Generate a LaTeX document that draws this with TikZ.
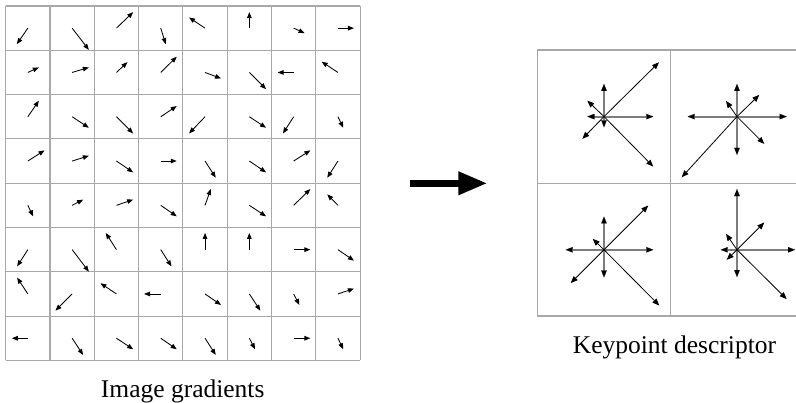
\documentclass[tikz,border=0pt]{standalone}
\usepackage{fontspec}
\setmainfont{Liberation Serif}
\usetikzlibrary{arrows.meta}
\definecolor{gridgray}{RGB}{168,168,168}
\definecolor{axisgray}{RGB}{125,125,125}
\tikzset{
  gridline/.style={draw=gridgray, line width=1.1pt},
  gradarrow/.style={line width=0.85pt, -{Triangle[length=6pt,width=4.6pt]}},
  diagarrow/.style={line width=0.8pt, -{Triangle[length=7pt,width=5.5pt]}},
  axisarrow/.style={draw=axisgray, line width=1.9pt,
    -{Triangle[length=7pt,width=5.5pt,color=black,line width=0.1pt]}},
  bigarrow/.style={line width=6.7pt, -{Triangle[length=29pt,width=22pt]}},
  caption/.style={font=\fontsize{25.5}{30}\selectfont, anchor=base, inner sep=0pt}
}
\begin{document}
\begin{tikzpicture}[x=1pt,y=-1pt]
\useasboundingbox (0,0) rectangle (796,403);
\clip (0,0) rectangle (796,403);

% ---- 8x8 grid of image gradients ----
\foreach \i in {0,...,8} {
  \draw[gridline] (5.7+44.3*\i,6) -- (5.7+44.3*\i,360.4);
  \draw[gridline] (5.7,6+44.3*\i) -- (360.1,6+44.3*\i);
}
\foreach \r/\c/\dx/\dy in {
  0/0/-11/16, 0/1/16.7/21.7, 0/2/16.7/-16, 0/3/5/16,
  0/4/-16/-10.7, 0/5/0/-16, 0/6/11/5, 0/7/16/0,
  1/0/11/-5, 1/1/16.7/-5, 1/2/11/-10.3, 1/3/16/-15.7,
  1/4/16/6, 1/5/16.7/16.7, 1/6/-16/0, 1/7/-16.3/-10.7,
  2/0/11/-16, 2/1/16.7/11, 2/2/16.7/16.7, 2/3/16/-10.7,
  2/4/-16/16.7, 2/5/16.7/11, 2/6/-10.7/16.7, 2/7/5.3/11,
  3/0/16.7/-10.7, 3/1/16.7/-5.3, 3/2/16.7/11.3, 3/3/16/0,
  3/4/10.7/16.7, 3/5/16.7/11.3, 3/6/16.7/-10.7, 3/7/-10.7/16.7,
  4/0/5.3/11, 4/1/11/-5.7, 4/2/16.7/-5.7, 4/3/16/11,
  4/4/5.7/-16.3, 4/5/16.7/11, 4/6/16.7/-16.3, 4/7/-10.7/-11,
  5/0/-10.7/16.7, 5/1/16.7/22, 5/2/-10.7/-16.7, 5/3/10.7/16.7,
  5/4/0/-16.7, 5/5/0/-16.7, 5/6/16.7/0, 5/7/16/11,
  6/0/-10.7/-16.3, 6/1/-16.7/16.7, 6/2/-16/-10.7, 6/3/-16.7/0,
  6/4/16/11, 6/5/11/16.7, 6/6/5.7/11, 6/7/16/-5.3,
  7/0/-16/0, 7/1/11/16.7, 7/2/16.7/11, 7/3/16/11,
  7/4/10.7/16.7, 7/5/5.7/11, 7/6/16.7/0, 7/7/5.3/11} {
  \coordinate (g-\r-\c) at (5.7+44.3*\c+22.15, 6+44.3*\r+22.15);
  \draw[gradarrow] (g-\r-\c) -- ++(\dx,\dy);
}
\node[caption] (gradlabel) at (182.7,397.3) {Image gradients};

% ---- arrow between the two panels ----
\coordinate (arrowtail) at (410,183.3);
\coordinate (arrowhead) at (487.3,183.3);
\draw[bigarrow] (arrowtail) -- (arrowhead);

% ---- 2x2 keypoint descriptor ----
\draw[gridline] (537.3,50) rectangle (803.3,316);
\draw[gridline] (670.3,50) -- (670.3,316);
\draw[gridline] (537.3,183.3) -- (803.3,183.3);

\coordinate (q1) at (604,116.6);
\coordinate (q2) at (737,116.6);
\coordinate (q3) at (604,249.8);
\coordinate (q4) at (737,249.8);

% orientation histograms: E, N, W, S (grey) and NE, NW, SW, SE (black)
\foreach \q/\e/\n/\w/\s in {q1/49.3/32.7/16.7/10.7, q2/49.7/32.7/49.3/38.3,
                            q3/49.3/33.3/38.3/27.7, q4/58/60.7/16.3/27.3} {
  \draw[axisarrow] (\q) -- ++(\e,0);
  \draw[axisarrow] (\q) -- ++(0,-\n);
  \draw[axisarrow] (\q) -- ++(-\w,0);
  \draw[axisarrow] (\q) -- ++(0,\s);
}
\foreach \q/\nex/\ney/\nwx/\nwy/\swx/\swy/\sex/\sey in {
    q1/55/-54.3/-16.7/-16/-21.7/22.3/49.3/50,
    q2/22.3/-21.7/-11/-15.7/-55.3/60.7/27.3/27.3,
    q3/44.3/-44.3/-11.3/-11/-33.3/33.3/55.3/55.7,
    q4/27.3/-27.3/-11/-16/-10.3/10/49.7/49.3} {
  \draw[diagarrow] (\q) -- ++(\nex,\ney);
  \draw[diagarrow] (\q) -- ++(\nwx,\nwy);
  \draw[diagarrow] (\q) -- ++(\swx,\swy);
  \draw[diagarrow] (\q) -- ++(\sex,\sey);
}
\node[caption] (desclabel) at (674.5,354) {Keypoint descriptor};
\end{tikzpicture}
\end{document}
